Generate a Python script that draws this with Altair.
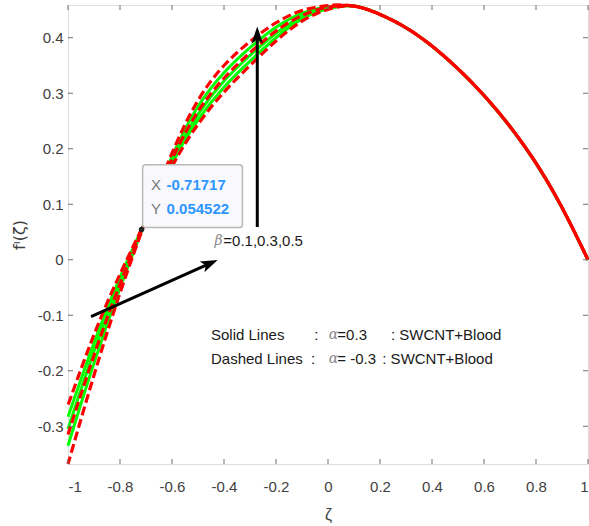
import altair as alt
import pandas as pd

# ---------------- data ----------------
zeta = [-1.0, -0.9, -0.8, -0.7, -0.6, -0.5, -0.4, -0.3, -0.2, -0.1, 0.0,
        0.1, 0.2, 0.3, 0.4, 0.5, 0.6, 0.7, 0.8, 0.9, 1.0]

# solid lines (alpha = 0.3), beta = 0.1, 0.3, 0.5
solid_b1 = [-0.283, -0.150, -0.032, 0.072, 0.173, 0.252, 0.311, 0.358, 0.400, 0.434, 0.452,
            0.457, 0.442, 0.418, 0.385, 0.344, 0.296, 0.240, 0.174, 0.094, 0.0]
solid_b2 = [-0.305, -0.165, -0.040, 0.072, 0.178, 0.262, 0.322, 0.368, 0.408, 0.438, 0.454,
            0.457, 0.442, 0.418, 0.385, 0.344, 0.296, 0.240, 0.174, 0.094, 0.0]
solid_b3 = [-0.335, -0.186, -0.051, 0.072, 0.186, 0.276, 0.337, 0.382, 0.419, 0.444, 0.456,
            0.457, 0.442, 0.418, 0.385, 0.344, 0.296, 0.240, 0.174, 0.094, 0.0]
# dashed lines (alpha = -0.3)
dashed_b1 = [-0.262, -0.135, -0.026, 0.072, 0.168, 0.244, 0.302, 0.350, 0.394, 0.430, 0.451,
             0.457, 0.442, 0.418, 0.385, 0.344, 0.296, 0.240, 0.174, 0.094, 0.0]
dashed_b2 = [-0.315, -0.172, -0.044, 0.072, 0.181, 0.267, 0.327, 0.373, 0.412, 0.440, 0.455,
             0.457, 0.442, 0.418, 0.385, 0.344, 0.296, 0.240, 0.174, 0.094, 0.0]
dashed_b3 = [-0.368, -0.208, -0.060, 0.072, 0.192, 0.287, 0.350, 0.393, 0.427, 0.449, 0.458,
             0.457, 0.442, 0.418, 0.385, 0.344, 0.296, 0.240, 0.174, 0.094, 0.0]

x_ticks = [-1, -0.8, -0.6, -0.4, -0.2, 0, 0.2, 0.4, 0.6, 0.8, 1]
y_ticks = [-0.3, -0.2, -0.1, 0, 0.1, 0.2, 0.3, 0.4]

# data tip
tip_x = [-0.71717]
tip_y = [0.054522]
tip_box_x = [-0.713, -0.329]
tip_box_y = [0.058, 0.171]
tip_labels = ["X", "Y"]
tip_values = ["-0.71717", "0.054522"]
tip_label_x = [-0.681, -0.681]
tip_value_x = [-0.621, -0.621]
tip_text_y = [0.1348, 0.091]

# arrows (tail -> head), arrow-head centres and angles
arrow1_x = [-0.272, -0.272]
arrow1_y = [0.059, 0.404]
arrow2_x = [-0.9115, -0.456]
arrow2_y = [-0.1025, -0.007]
head_x = [-0.272, -0.456]
head_y = [0.404, -0.007]
head_angle = [0, 66]

# beta annotation
beta_x = [-0.4365]
beta_rest_x = [-0.4027]
beta_y = [0.034]

# legend-like text
leg_y = [-0.1355, -0.1787]
leg_name = ["Solid Lines", "Dashed Lines"]
leg_name_x = [-0.45, -0.45]
leg_colon_x = [-0.0527, -0.0654]
leg_alpha_x = [0.003, 0.003]
leg_val = ["=0.3", "= -0.3"]
leg_val_x = [0.036, 0.036]
leg_tail = [": SWCNT+Blood", ": SWCNT+Blood"]
leg_tail_x = [0.2423, 0.2088]

# ---------------- chart ----------------
W, H = 520, 459
FONT = "Liberation Sans, Arial, DejaVu Sans"
xs = alt.Scale(domain=[-1, 1], nice=False, zero=False)
ys = alt.Scale(domain=[-0.368, 0.459], nice=False, zero=False)

LBL = "replace(format(datum.value, '~g'), '\u2212', '-')"
xaxis = alt.Axis(values=x_ticks, labelExpr=LBL,
                 labelFontSize=15, labelColor="#404040", labelFont=FONT,
                 ticks=False, domain=False, grid=False, labelPadding=15,
                 title="ζ", titleFontSize=16, titleFont=FONT, titleColor="#404040",
                 titleFontWeight="normal", titlePadding=12)
yaxis = alt.Axis(values=y_ticks, labelExpr=LBL,
                 labelFontSize=15, labelColor="#404040", labelFont=FONT,
                 ticks=False, domain=False, grid=False, labelPadding=5,
                 title="f\u1d35(ζ)", titleFontSize=16, titleFont="DejaVu Sans",
                 titleColor="#404040", titleFontWeight="normal", titlePadding=10)


def X(f):
    return alt.X(f"{f}:Q", scale=xs, axis=xaxis)


def Y(f):
    return alt.Y(f"{f}:Q", scale=ys, axis=yaxis)


rows = []
for name, vals in [("s1", solid_b1), ("s2", solid_b2), ("s3", solid_b3),
                   ("d1", dashed_b1), ("d2", dashed_b2), ("d3", dashed_b3)]:
    for z, v in zip(zeta, vals):
        rows.append({"x": z, "y": v, "series": name})
df = pd.DataFrame(rows)

solid = alt.Chart(df[df.series.str.startswith("s")]).mark_line(
    color="#00ff00", strokeWidth=3, interpolate="natural"
).encode(x=X("x"), y=Y("y"), detail="series:N")

# dashed lines are drawn from the right end so that the shared right part
# is fully covered by the three phase-shifted dash patterns
dashed_layers = []
for i, s in enumerate(["d1", "d2", "d3"]):
    dashed_layers.append(
        alt.Chart(df[df.series == s]).mark_line(
            color="#ff0000", strokeWidth=3.2, interpolate="natural",
            strokeDash=[9, 4], strokeDashOffset=i * 4.5
        ).encode(x=X("x"), y=Y("y"), order=alt.Order("x:Q", sort="descending"))
    )

# inward ticks
tk = "#6e6e6e"
xt = pd.DataFrame({"x": x_ticks})
yt = pd.DataFrame({"y": y_ticks})
ticks_bottom = alt.Chart(xt).mark_rule(color=tk, strokeWidth=1).encode(
    x=X("x"), y=alt.value(H), y2=alt.value(H - 5))
ticks_top = alt.Chart(xt).mark_rule(color=tk, strokeWidth=1).encode(
    x=X("x"), y=alt.value(0), y2=alt.value(5))
ticks_left = alt.Chart(yt).mark_rule(color=tk, strokeWidth=1).encode(
    y=Y("y"), x=alt.value(0), x2=alt.value(5))
ticks_right = alt.Chart(yt).mark_rule(color=tk, strokeWidth=1).encode(
    y=Y("y"), x=alt.value(W), x2=alt.value(W - 5))

# arrows
a1 = alt.Chart(pd.DataFrame({"x": arrow1_x, "y": arrow1_y})).mark_line(
    color="black", strokeWidth=3).encode(x=X("x"), y=Y("y"))
a2 = alt.Chart(pd.DataFrame({"x": arrow2_x, "y": arrow2_y})).mark_line(
    color="black", strokeWidth=3).encode(x=X("x"), y=Y("y"))
heads = alt.Chart(pd.DataFrame({"x": head_x, "y": head_y, "a": head_angle})).mark_point(
    shape="M0,-1L0.65,0.9L0,0.45L-0.65,0.9Z", filled=True, color="black",
    opacity=1, size=324).encode(
    x=X("x"), y=Y("y"), angle=alt.Angle("a:Q", scale=None))

# data tip
box = alt.Chart(pd.DataFrame({"x": [tip_box_x[0]], "x2": [tip_box_x[1]],
                              "y": [tip_box_y[0]], "y2": [tip_box_y[1]]})).mark_rect(
    fill="#f9f9fd", stroke="#b9b9b9", strokeWidth=1.5, cornerRadius=3).encode(
    x=X("x"), x2="x2:Q", y=Y("y"), y2="y2:Q")
dot = alt.Chart(pd.DataFrame({"x": tip_x, "y": tip_y})).mark_point(
    filled=True, color="#222222", size=30, opacity=1).encode(x=X("x"), y=Y("y"))
tipdf = pd.DataFrame({"lx": tip_label_x, "vx": tip_value_x, "y": tip_text_y,
                      "l": tip_labels, "v": tip_values})
tip_l = alt.Chart(tipdf).mark_text(align="left", baseline="middle", font=FONT,
                                   fontSize=15, color="#7a7a7a").encode(
    x=X("lx"), y=Y("y"), text="l:N")
tip_v = alt.Chart(tipdf).mark_text(align="left", baseline="middle", font=FONT,
                                   fontSize=15, fontWeight="bold", color="#2e96ff").encode(
    x=X("vx"), y=Y("y"), text="v:N")

# beta text
bdf = pd.DataFrame({"x": beta_x, "x2": beta_rest_x, "y": beta_y})
beta_sym = alt.Chart(bdf).mark_text(align="left", baseline="middle", font="DejaVu Serif",
                                    fontStyle="italic", fontSize=14, color="#8a8a8a",
                                    text="β").encode(x=X("x"), y=Y("y"))
beta_rest = alt.Chart(bdf).mark_text(align="left", baseline="middle", font=FONT,
                                     fontSize=15, color="#1a1a1a",
                                     text="=0.1,0.3,0.5").encode(x=X("x2"), y=Y("y"))

# legend text
ldf = pd.DataFrame({"y": leg_y, "name": leg_name, "nx": leg_name_x, "cx": leg_colon_x,
                    "ax": leg_alpha_x, "val": leg_val, "vx": leg_val_x,
                    "tail": leg_tail, "tx": leg_tail_x})


def ltext(xf, tf=None, const=None, **kw):
    props = dict(align="left", baseline="middle", font=FONT, fontSize=15, color="#1a1a1a")
    props.update(kw)
    if const is not None:
        props["text"] = const
    enc = dict(x=X(xf), y=Y("y"))
    if tf is not None:
        enc["text"] = f"{tf}:N"
    return alt.Chart(ldf).mark_text(**props).encode(**enc)


leg_layers = [
    ltext("nx", "name"),
    ltext("cx", const=":"),
    ltext("ax", const="α", font="DejaVu Serif", fontStyle="italic", color="#8a8a8a", fontSize=14),
    ltext("vx", "val"),
    ltext("tx", "tail"),
]

chart = alt.layer(
    solid, *dashed_layers, ticks_bottom, ticks_top, ticks_left, ticks_right,
    a1, a2, heads, box, dot, tip_l, tip_v, beta_sym, beta_rest, *leg_layers
).properties(
    width=W, height=H, autosize="none",
    padding={"left": 68, "top": 5, "right": 1, "bottom": 62}
).configure_view(stroke="#6e6e6e", strokeWidth=1).configure(background="white")

chart.save("out.html", embed_options={"renderer": "svg", "actions": False})
